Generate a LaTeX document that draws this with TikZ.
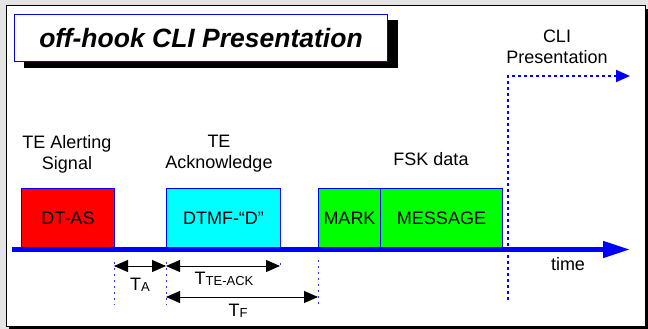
\documentclass[tikz,border=0pt]{standalone}
\usepackage{fontspec}
\setmainfont{Liberation Sans}
\usetikzlibrary{calc,arrows.meta,positioning}
\definecolor{mygray1}{RGB}{228, 228, 228}
\definecolor{myblue}{RGB}{0, 0, 255}
\definecolor{mycyan}{RGB}{0, 255, 255}
\definecolor{mygreen}{RGB}{0, 255, 0}
\tikzset{>={Triangle[length=14pt,width=12pt]}}
\tikzset{
  sigbox/.style = {draw = myblue, line width = 1pt, inner sep = 0pt, minimum height = 59pt,
                   anchor = south west, font = \fontsize{18}{18}\selectfont},
  lbl/.style = {font = \fontsize{18}{21}\selectfont, align = center, inner sep = 0pt},
  tick/.style = {myblue!80, line width = 0.8pt, dash pattern = on 2pt off 4pt},
  dimarr/.style = {<->, line width = 1pt}
}
\newcommand{\subtxt}[1]{{\fontsize{13}{13}\selectfont\raisebox{-1pt}{#1}}}

\begin{document}
\begin{tikzpicture}[x = 1pt, y = -1pt]
\useasboundingbox (0, 0) rectangle (648, 329);

% frame
\fill[mygray1] (0, 0) rectangle (648, 329);
\fill[black] (9, 9) rectangle (648, 329);
\draw[draw = black, fill = white, line width = 1pt] (6, 6) rectangle (645, 326);

% title
\fill[black] (24, 20) rectangle (398, 68);
\node[draw = myblue, fill = white, line width = 1pt, minimum width = 373pt, minimum height = 47pt,
      anchor = north west, font = \fontsize{26.5}{26.5}\selectfont\bfseries\itshape] (title) at (14, 14)
      {off-hook CLI Presentation};

% signals on the time axis
\node[sigbox, fill = red,     minimum width = 93pt]  (dtas) at (21, 248)  {DT-AS};
\node[sigbox, fill = mycyan,  minimum width = 114pt] (dtmf) at (166, 248) {DTMF-``D''};
\node[sigbox, fill = mygreen, minimum width = 62pt]  (mark) at (318, 248) {MARK};
\node[sigbox, fill = mygreen, minimum width = 122pt] (msg)  at (380, 248) {MESSAGE};

\coordinate (axl) at (12, 249.5);
\coordinate (axr) at (630, 249.5);
\draw[myblue, line width = 4.5pt, -{Triangle[length=27pt,width=16pt]}] (axl) -- (axr);
\node[lbl] (time) at (568, 264) {time};

\node[lbl] (alert) at (67, 154)  {TE Alerting\\Signal};
\node[lbl] (ack)   at (219, 154) {TE\\Acknowledge};
\node[lbl] (fsk)   at (431, 159) {FSK data};
\node[lbl] (pres)  at (557, 47)  {CLI\\Presentation};

% CLI presentation start
\coordinate (cliB) at (508, 300);
\coordinate (cliT) at (508, 76);
\coordinate (cliE) at (630, 76);
\draw[myblue, line width = 2pt, dash pattern = on 3pt off 3pt,
      -{Triangle[length=14pt,width=12pt]}] (cliB) -- (cliT) -- (cliE);

% timing ticks
\coordinate (t1) at (114, 262);
\coordinate (t2) at (166, 262);
\coordinate (t3) at (280, 263);
\coordinate (t4) at (318, 260);
\draw[tick] (t1) -- (114, 305);
\draw[tick] (t2) -- (166, 305);
\draw[tick] (t3) -- (280, 267);
\draw[tick] (t4) -- (318, 305);

% timing arrows
\coordinate (a1) at (114, 266);
\coordinate (a2) at (166, 266);
\coordinate (a3) at (280, 266);
\coordinate (f1) at (166, 297);
\coordinate (f2) at (318, 297);
\draw[dimarr] (a1) -- node[lbl, below = 12pt] (ta) {T\subtxt{A}} (a2);
\draw[dimarr] (a2) -- node[lbl, below = 6pt, xshift = 1pt] (tack) {T\subtxt{TE-ACK}} (a3);
\draw[dimarr] (f1) -- node[lbl, below = 7pt, xshift = -4pt] (tf) {T\subtxt{F}} (f2);

\end{tikzpicture}
\end{document}
